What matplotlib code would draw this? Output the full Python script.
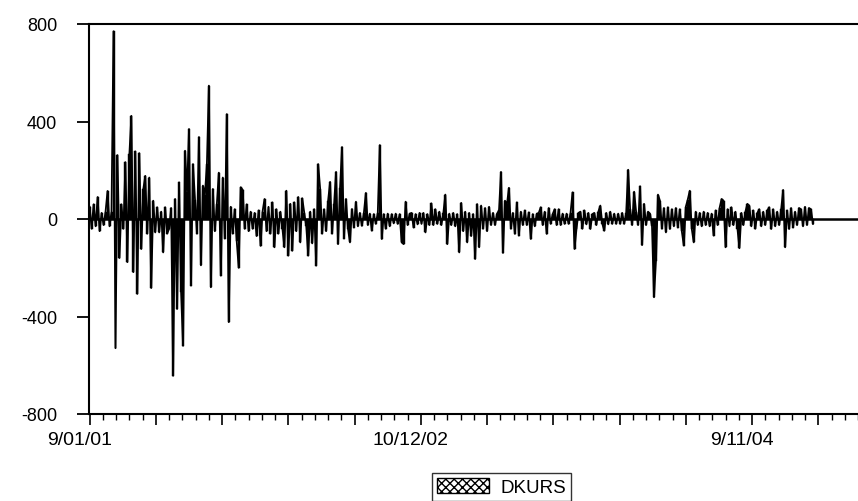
import matplotlib
matplotlib.use("Agg")
import matplotlib.pyplot as plt
from matplotlib.patches import Patch
from matplotlib.ticker import MultipleLocator
from matplotlib.transforms import ScaledTranslation
import numpy as np

plt.rcParams['font.family'] = ['Liberation Sans', 'DejaVu Sans']

series_name = "DKURS"
obs_step = 3  # observations represented by each value
tick_labels = ["9/01/01", "10/12/02", "9/11/04"]
tick_obs = [0, 500, 1000]
y_ticks = [-800, -400, 0, 400, 800]

dkurs = [
    50, -40, 60, -30, 90, -50, 25, -25, 30, 115,
    -30, 30, 770, -530, 262, -160, 60, -40, 233, -177,
    267, 423, -218, 277, -307, 270, -123, 123, 177, -60,
    170, -283, 75, -55, 48, -55, 30, -137, 48, -60,
    -40, 45, -643, 82, -369, 150, -300, -520, 280, 110,
    369, -273, 225, 80, -60, 336, -190, 137, 100, 225,
    547, -280, 123, -50, 60, 190, -232, 170, -80, 430,
    -423, 50, -60, 40, -90, -200, 130, 120, -40, 60,
    -50, 30, -40, 25, -70, 35, -110, 30, 82, -50,
    50, -60, 68, -116, 40, -60, 30, -40, -116, 116,
    -150, 62, -130, 68, -50, 90, -96, 85, 25, -30,
    -150, 30, -100, 40, -191, 225, 123, -60, 40, -50,
    75, 152, -60, 60, 193, -103, 128, 295, -80, 82,
    -40, -96, 41, -35, 71, -30, 25, -28, 25, 107,
    -25, 22, -48, 20, -20, 25, 303, -82, 20, -40,
    22, -30, 20, -18, 22, -20, 20, -96, -103, 71,
    -25, 22, 25, -35, 20, -22, 25, -20, 25, -55,
    20, -25, 64, -25, 40, -20, 30, -25, 25, 100,
    -103, 22, -25, 25, -30, 20, -137, 66, -50, 30,
    -96, 25, -70, 20, -164, 61, -116, 55, -40, 45,
    -50, 50, -25, 25, -25, 22, 35, 193, -139, 75,
    60, 128, -40, 25, -61, 68, -68, 30, -25, 35,
    -25, 27, -82, 20, -30, 22, 25, 48, -25, 30,
    -61, 45, -20, 20, 40, -25, 40, -25, 22, -20,
    22, -20, 25, 109, -123, -40, 25, 30, -40, 35,
    -22, 25, -41, 20, 25, -25, 30, 55, -20, -48,
    25, -22, 30, -20, 22, -20, 22, -20, 25, -20,
    25, 202, 40, -25, 112, 30, -25, 134, -107, 62,
    -25, 30, 22, -30, -321, -171, 100, 75, -40, 45,
    -55, 48, -41, 40, -30, 45, -35, 40, -50, -109,
    50, 80, 116, -40, -96, 30, -25, 25, -30, 30,
    -25, 25, -30, 22, -68, 35, -25, 45, 82, 75,
    -116, 40, -30, 48, -25, 30, -40, -120, 25, -25,
    30, 62, 55, -30, 35, -40, 25, 40, -30, 30,
    -25, 35, 48, -41, 40, -30, 30, -25, 40, 119,
    -116, 35, -41, 45, -35, 30, -25, 45, 40, -30,
    50, -25, 45, 40, -20,
]

W, H = 858, 502
fig = plt.figure(figsize=(W / 100, H / 100), dpi=100)
left = 89 / W
bottom = 1 - 415 / H
top = 1 - 25 / H
ax = fig.add_axes([left, bottom, 1.0 - left, top - bottom])

x = np.arange(len(dkurs)) * obs_step
ax.bar(x, dkurs, width=obs_step, color="black", edgecolor="black",
       linewidth=0.3, align="center")
ax.plot(x, dkurs, color="black", linewidth=1.3)
ax.axhline(0, color="black", linewidth=1.8)

ax.set_xlim(-1, 1160)
ax.set_ylim(-800, 800)

ax.spines['right'].set_visible(False)
for s in ['left', 'bottom', 'top']:
    ax.spines[s].set_linewidth(1.5)
    ax.spines[s].set_color("black")

ax.set_yticks(y_ticks)
ax.set_yticklabels([str(v) for v in y_ticks])
ax.tick_params(axis='y', direction='out', length=9, width=1.3,
               labelsize=13, pad=14)

ax.xaxis.set_minor_locator(MultipleLocator(20))
major_ticks = list(range(0, 1160, 100))
labels = [tick_labels[tick_obs.index(t)] if t in tick_obs else ""
          for t in major_ticks]
ax.set_xticks(major_ticks)
ax.set_xticklabels(labels)
ax.tick_params(axis='x', which='major', direction='out', length=8, width=1.2,
               labelsize=14, pad=4)
ax.tick_params(axis='x', which='minor', direction='out', length=4, width=1.0)
shift = ScaledTranslation(-10 / 100, 0, fig.dpi_scale_trans)
for lab in ax.get_xticklabels():
    lab.set_transform(lab.get_transform() + shift)

handle = Patch(facecolor="white", edgecolor="black", hatch="xxxx",
               label=series_name)
fig.legend(handles=[handle], loc="upper left",
           bbox_to_anchor=(432 / W, 1 - 474 / H), frameon=True,
           fancybox=False, edgecolor="black", fontsize=13.5,
           handlelength=2.8, handleheight=0.9, borderpad=0.25,
           handletextpad=0.6, borderaxespad=0.0)
leg = fig.legends[0]
leg.get_frame().set_linewidth(1.0)

fig.savefig("out.png", dpi=100)
